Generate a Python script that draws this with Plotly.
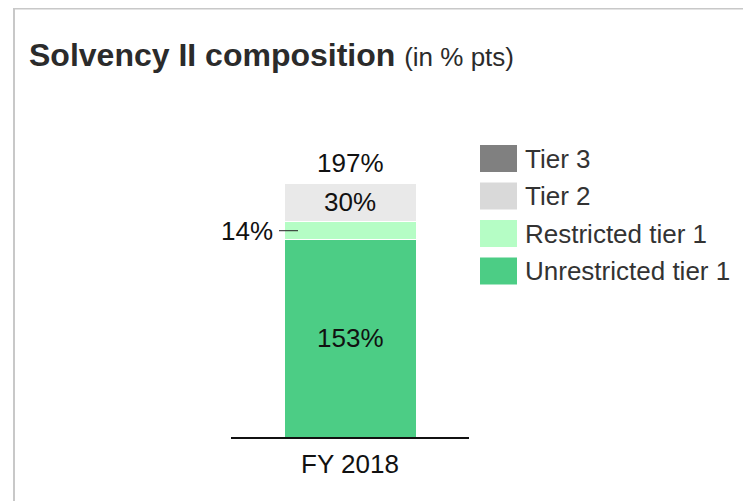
import plotly.graph_objects as go

# ---- data ----
categories = ["FY 2018"]
series_names = ["Unrestricted tier 1", "Restricted tier 1", "Tier 2", "Tier 3"]
series_values = [[153], [14], [30], [0]]
bar_colors = ["#4ccd85", "#b5fdc5", "#e9e9e9", "#808080"]
legend_colors = ["#4ccd85", "#b5fdc5", "#d9d9d9", "#808080"]
total_values = [197]

# ---- geometry (target screenshot pixels; page body adds an 8px offset) ----
OFF = 8
W, H = 751, 501
PLOT_LEFT, PLOT_RIGHT, PLOT_TOP, PLOT_BOTTOM = 231, 469, 100, 437
L = PLOT_LEFT - OFF
R = W - (PLOT_RIGHT - OFF)
T = PLOT_TOP - OFF
B = H - (PLOT_BOTTOM - OFF)
PW, PH = W - L - R, H - T - B
YMAX = PH / (254 / 197)
BAR_W = 132 / PW
FONT = "Liberation Sans, Arial, sans-serif"


def px_x(px):
    return (px - OFF - L) / PW


def px_y(py):
    return (H - B - (py - OFF)) / PH


fig = go.Figure()
for name, vals, col in zip(series_names, series_values, bar_colors):
    fig.add_trace(go.Bar(
        x=categories, y=vals, name=name, width=BAR_W,
        marker=dict(color=col, line=dict(color="white", width=1)),
        showlegend=False, hoverinfo="skip",
    ))

annotations = []
shapes = []
label_font = dict(family=FONT, size=26, color="#111111")

for i, cat in enumerate(categories):
    base = 0
    seg = {}
    for name, vals in zip(series_names, series_values):
        seg[name] = (base, vals[i])
        base += vals[i]
    for name in ["Unrestricted tier 1", "Tier 2"]:
        b0, v = seg[name]
        annotations.append(dict(x=cat, y=b0 + v / 2, xref="x", yref="y",
                                text=f"{v}%", showarrow=False, font=label_font,
                                xanchor="center", yanchor="middle"))
    annotations.append(dict(x=cat, y=total_values[i], xref="x", yref="y",
                            text=f"{total_values[i]}%", showarrow=False, font=label_font,
                            xanchor="center", yanchor="bottom", yshift=3))
    b0, v = seg["Restricted tier 1"]
    left_edge = i - BAR_W / 2
    annotations.append(dict(x=left_edge, y=b0 + v / 2, xref="x", yref="y",
                            text=f"{v}%", showarrow=False, font=label_font,
                            xanchor="right", yanchor="middle", xshift=-9))
    shapes.append(dict(type="line", xref="x", yref="y",
                       x0=left_edge - 5 / PW, x1=left_edge + 14 / PW,
                       y0=b0 + v / 2, y1=b0 + v / 2,
                       line=dict(color="#222222", width=1)))

# ---- manual legend ----
legend_order = ["Tier 3", "Tier 2", "Restricted tier 1", "Unrestricted tier 1"]
for k, name in enumerate(legend_order):
    col = legend_colors[series_names.index(name)]
    top = 145 + k * 37.5
    shapes.append(dict(type="rect", xref="paper", yref="paper",
                       x0=px_x(480), x1=px_x(517), y0=px_y(top), y1=px_y(top + 27),
                       fillcolor=col, line=dict(width=0)))
    annotations.append(dict(x=px_x(523), y=px_y(top + 13.5), xref="paper", yref="paper",
                            text=name, showarrow=False,
                            font=dict(family=FONT, size=26, color="#333333"),
                            xanchor="left", yanchor="middle"))

# ---- title ----
annotations.append(dict(
    x=px_x(27), y=px_y(55), xref="paper", yref="paper",
    text="<b>Solvency II composition</b> <span style='font-size:26px'>(in % pts)</span>",
    showarrow=False, font=dict(family=FONT, size=32, color="#2b2b2b"),
    xanchor="left", yanchor="middle"))

# ---- frame ----
shapes.append(dict(type="line", xref="paper", yref="paper",
                   x0=px_x(13), x1=px_x(780), y0=px_y(8.5), y1=px_y(8.5),
                   line=dict(color="#c8c8c8", width=2)))
shapes.append(dict(type="line", xref="paper", yref="paper",
                   x0=px_x(14), x1=px_x(14), y0=px_y(7.5), y1=px_y(540),
                   line=dict(color="#c8c8c8", width=2)))

fig.update_layout(
    barmode="stack",
    width=W, height=H, autosize=False,
    margin=dict(l=L, r=R, t=T, b=B, pad=0),
    paper_bgcolor="white", plot_bgcolor="white",
    font=dict(family=FONT, size=26, color="#111111"),
    xaxis=dict(range=[-0.5, 0.5], showline=True, linecolor="#111111", linewidth=2,
               showgrid=False, zeroline=False, ticks="outside", ticklen=3,
               tickcolor="rgba(0,0,0,0)", tickfont=dict(family=FONT, size=26, color="#111111")),
    yaxis=dict(range=[0, YMAX], visible=False, showgrid=False, zeroline=False),
    annotations=annotations,
    shapes=shapes,
)

fig.write_html("out.html")
